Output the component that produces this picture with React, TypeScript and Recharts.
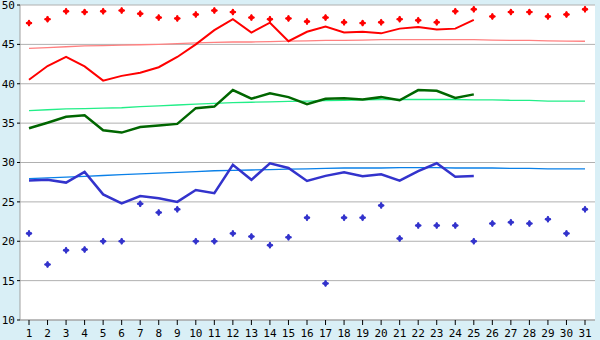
import React from 'react';
import { ComposedChart, Line, XAxis, YAxis, CartesianGrid } from 'recharts';

const days = Array.from({ length: 31 }, (_, i) => String(i + 1));
const yTicks = [10, 15, 20, 25, 30, 35, 40, 45, 50];

const maxTemp = [40.5, 42.25, 43.4, 42.2, 40.4, 41.0, 41.4, 42.1, 43.4, 45.0, 46.8, 48.2, 46.5, 47.75, 45.4, 46.6, 47.25, 46.5, 46.6, 46.4, 47.0, 47.2, 46.9, 47.0, 48.1];
const recordHigh = [47.7, 48.2, 49.2, 49.1, 49.2, 49.3, 48.9, 48.4, 48.3, 48.8, 49.3, 49.1, 48.4, 48.2, 48.3, 47.9, 48.4, 47.8, 47.7, 47.8, 48.2, 48.05, 47.8, 49.2, 49.45, 48.55, 49.1, 49.1, 48.55, 48.8, 49.45];
const normalHigh = [44.5, 44.6, 44.7, 44.8, 44.85, 44.9, 44.95, 45.0, 45.1, 45.2, 45.25, 45.3, 45.3, 45.35, 45.4, 45.45, 45.5, 45.5, 45.55, 45.6, 45.6, 45.6, 45.6, 45.6, 45.6, 45.55, 45.5, 45.5, 45.45, 45.4, 45.4];
const meanTemp = [34.35, 35.05, 35.8, 36.0, 34.1, 33.8, 34.5, 34.7, 34.9, 36.9, 37.1, 39.2, 38.1, 38.8, 38.3, 37.4, 38.1, 38.15, 38.0, 38.3, 37.9, 39.2, 39.1, 38.2, 38.65];
const normalMean = [36.6, 36.7, 36.8, 36.85, 36.9, 36.95, 37.1, 37.2, 37.3, 37.4, 37.5, 37.6, 37.65, 37.7, 37.75, 37.8, 37.85, 37.9, 37.95, 38.0, 38.0, 38.0, 38.0, 38.0, 37.95, 37.95, 37.9, 37.9, 37.8, 37.8, 37.8];
const minTemp = [27.7, 27.8, 27.45, 28.8, 25.95, 24.8, 25.75, 25.45, 25.0, 26.5, 26.1, 29.7, 27.8, 29.9, 29.3, 27.65, 28.3, 28.75, 28.25, 28.5, 27.7, 28.9, 29.9, 28.2, 28.3];
const recordLow = [21.0, 17.05, 18.85, 18.95, 20.0, 20.0, 24.75, 23.65, 24.05, 20.0, 20.0, 21.0, 20.6, 19.5, 20.5, 23.0, 14.65, 23.0, 23.0, 24.55, 20.35, 22.0, 22.0, 22.0, 20.0, 22.25, 22.4, 22.25, 22.8, 21.0, 24.05];
const normalLow = [27.95, 28.05, 28.15, 28.25, 28.35, 28.45, 28.55, 28.65, 28.75, 28.85, 28.95, 29.0, 29.05, 29.1, 29.15, 29.2, 29.25, 29.3, 29.3, 29.3, 29.35, 29.35, 29.35, 29.3, 29.3, 29.3, 29.25, 29.25, 29.2, 29.2, 29.2];

const data = days.map((d, i) => ({
  day: d,
  maxTemp: maxTemp[i],
  recordHigh: recordHigh[i],
  normalHigh: normalHigh[i],
  meanTemp: meanTemp[i],
  normalMean: normalMean[i],
  minTemp: minTemp[i],
  recordLow: recordLow[i],
  normalLow: normalLow[i],
}));

const makeMarker = (color: string) => (props: any) => {
  const { cx, cy, index } = props;
  if (cx == null || cy == null || isNaN(cy)) return <g key={index} />;
  const a = 3.5;
  const b = 1.5;
  const d = `M${cx - a},${cy} L${cx - b},${cy - b} L${cx},${cy - a} L${cx + b},${cy - b} L${cx + a},${cy} L${cx + b},${cy + b} L${cx},${cy + a} L${cx - b},${cy + b} Z`;
  return (
    <g key={index}>
      <path d={d} fill={color} stroke="none" />
      <rect x={cx - 1} y={cy - 3} width={2} height={6} fill={color} />
      <rect x={cx - 3} y={cy - 1} width={6} height={2} fill={color} />
    </g>
  );
};

const font = { fontFamily: 'DejaVu Sans Mono', fontSize: 11, fill: '#000' };

export default function App() {
  return (
    <div style={{ position: 'absolute', left: 0, top: 0, width: 600, height: 340, background: '#d9eff6' }}>
      <ComposedChart width={600} height={340} data={data} margin={{ top: 5, right: 5, left: 0, bottom: 0 }}>
        <CartesianGrid vertical={false} stroke="#b0b0b0" fill="#ffffff" />
        <XAxis
          dataKey="day"
          padding={{ left: 9, right: 10 }}
          height={20}
          tickSize={5}
          tickMargin={4}
          interval={0}
          tick={font}
          tickLine={{ stroke: '#000' }}
          axisLine={{ stroke: '#a0a0a0' }}
        />
        <YAxis
          domain={[10, 50]}
          ticks={yTicks}
          width={20}
          tickSize={3}
          tickMargin={2}
          tick={font}
          tickLine={{ stroke: '#000' }}
          axisLine={{ stroke: '#a0a0a0' }}
          interval={0}
        />
        <YAxis
          yAxisId="r"
          orientation="right"
          domain={[10, 50]}
          width={0}
          tick={false}
          tickLine={false}
          axisLine={{ stroke: '#a0a0a0' }}
        />
        <Line dataKey="normalHigh" stroke="#ff8080" strokeWidth={1.3} dot={false} isAnimationActive={false} />
        <Line dataKey="normalMean" stroke="#22ee88" strokeWidth={1.3} dot={false} isAnimationActive={false} />
        <Line dataKey="normalLow" stroke="#0a80e8" strokeWidth={1.3} dot={false} isAnimationActive={false} />
        <Line dataKey="maxTemp" stroke="#ff0000" strokeWidth={2} dot={false} isAnimationActive={false} />
        <Line dataKey="meanTemp" stroke="#006600" strokeWidth={2.5} dot={false} isAnimationActive={false} />
        <Line dataKey="minTemp" stroke="#3333cc" strokeWidth={2.5} dot={false} isAnimationActive={false} />
        <Line dataKey="recordHigh" stroke="none" dot={makeMarker('#ff0000')} activeDot={false} isAnimationActive={false} />
        <Line dataKey="recordLow" stroke="none" dot={makeMarker('#3333cc')} activeDot={false} isAnimationActive={false} />
      </ComposedChart>
    </div>
  );
}
